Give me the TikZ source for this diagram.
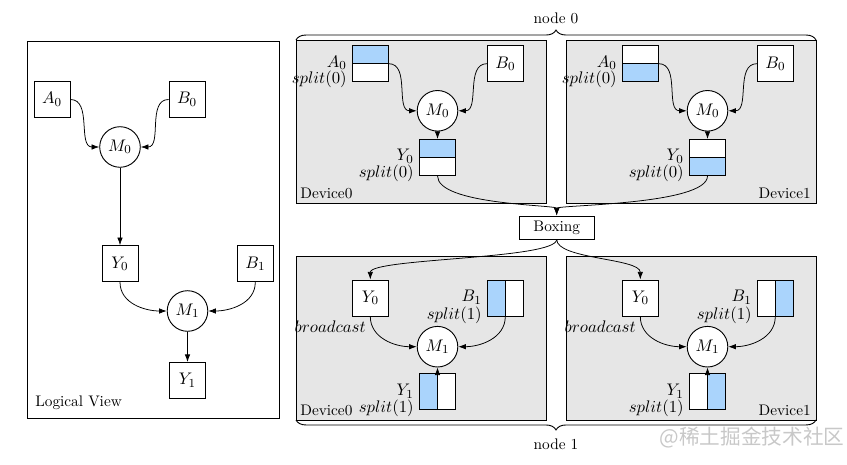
\documentclass[tikz,border=0pt]{standalone}
\usepackage{fontspec}
\newfontfamily\wmfont{Noto Sans CJK SC}
\usetikzlibrary{arrows.meta,decorations.pathreplacing}
\definecolor{blu}{RGB}{170,212,252}
\definecolor{panelgray}{RGB}{230,230,230}
\definecolor{wmgray}{RGB}{200,200,200}
\tikzset{
  mathfont/.style={font=\fontsize{10.8pt}{13pt}\selectfont},
  sq/.style={draw,fill=white,minimum size=23.5pt,inner sep=0pt,line width=0.6pt,mathfont},
  op/.style={draw,circle,fill=white,minimum size=26.5pt,inner sep=0pt,line width=0.6pt,mathfont},
  tophalf/.style={path picture={\fill[blu] (path picture bounding box.north west) rectangle (path picture bounding box.east);\draw[line width=0.6pt] (path picture bounding box.west) -- (path picture bounding box.east);}},
  bothalf/.style={path picture={\fill[blu] (path picture bounding box.south west) rectangle (path picture bounding box.east);\draw[line width=0.6pt] (path picture bounding box.west) -- (path picture bounding box.east);}},
  lefthalf/.style={path picture={\fill[blu] (path picture bounding box.north west) rectangle (path picture bounding box.south);\draw[line width=0.6pt] (path picture bounding box.north) -- (path picture bounding box.south);}},
  righthalf/.style={path picture={\fill[blu] (path picture bounding box.north) rectangle (path picture bounding box.south east);\draw[line width=0.6pt] (path picture bounding box.north) -- (path picture bounding box.south);}},
  conn/.style={-{Latex[length=5pt,width=3.6pt]},line width=0.5pt},
  panel/.style={draw,fill=panelgray,line width=0.6pt},
  lbl/.style={anchor=east,inner sep=0pt,mathfont},
  devw/.style={anchor=west,inner sep=0pt},
  deve/.style={anchor=east,inner sep=0pt},
  brc/.style={decorate,decoration={brace,amplitude=6.5pt},line width=0.6pt},
  boxing/.style={draw,fill=white,minimum width=49pt,minimum height=15pt,inner sep=0pt,line width=0.6pt},
  toboxing/.style={out=-90,in=90,out distance=19pt,in distance=7pt},
  fromboxing/.style={out=-90,in=90,out distance=13pt,in distance=14pt}
}
\begin{document}
\begin{tikzpicture}[x=0.653pt,y=0.653pt]
\useasboundingbox (0,0) rectangle (847,464);

% ---------------- Logical view ----------------
\draw[line width=0.6pt] (27,423) rectangle (279,46);
\node[sq] (LA0) at (52,364.5) {$A_0$};
\node[sq] (LB0) at (187,364.5) {$B_0$};
\node[op] (LM0) at (120,317) {$M_0$};
\node[sq] (LY0) at (120,200.3) {$Y_0$};
\node[sq] (LB1) at (255.3,200.3) {$B_1$};
\node[op] (LM1) at (187.5,153) {$M_1$};
\node[sq] (LY1) at (187.5,83.5) {$Y_1$};
\node[devw] (LV) at (35,61) {Logical View};
\draw[conn] (LA0.east) to[out=0,in=180] (LM0.west);
\draw[conn] (LB0.west) to[out=180,in=0] (LM0.east);
\draw[conn] (LM0) -- (LY0);
\draw[conn] (LY0.south) to[out=-90,in=180] (LM1.west);
\draw[conn] (LB1.south) to[out=-90,in=0] (LM1.east);
\draw[conn] (LM1) -- (LY1);

% ---------------- panels ----------------
\draw[panel] (296,424) rectangle (546,261);
\draw[panel] (566,424) rectangle (816,261);
\draw[panel] (296,208) rectangle (546,44);
\draw[panel] (566,208) rectangle (816,44);

% braces
\draw[brc] (296,424) -- (816,424);
\node (N0) at (556,446) {node 0};
\draw[brc] (816,44) -- (296,44);
\node (N1) at (556,20) {node 1};

% ---------------- node 0, device 0 ----------------
\node[sq,tophalf] (aA0) at (370.3,400.3) {};
\node[lbl] (aA0n) at (347,401.3) {$A_0$};
\node[lbl] (aA0s) at (347,384.3) {$split(0)$};
\node[sq] (aB0) at (505.3,400.3) {$B_0$};
\node[op] (aM0) at (437.5,353.2) {$M_0$};
\node[sq,tophalf] (aY0) at (437.5,306.5) {};
\node[lbl] (aY0n) at (414,307.5) {$Y_0$};
\node[lbl] (aY0s) at (414,290.5) {$split(0)$};
\node[devw] (aDev) at (300,271) {Device0};
\draw[conn] (aA0.east) to[out=0,in=180] (aM0.west);
\draw[conn] (aB0.west) to[out=180,in=0] (aM0.east);
\draw[conn] (aM0) -- (aY0);

% ---------------- node 0, device 1 ----------------
\node[sq,bothalf] (bA0) at (640.3,400.3) {};
\node[lbl] (bA0n) at (617,401.3) {$A_0$};
\node[lbl] (bA0s) at (617,384.3) {$split(0)$};
\node[sq] (bB0) at (775.3,400.3) {$B_0$};
\node[op] (bM0) at (707.5,353.2) {$M_0$};
\node[sq,bothalf] (bY0) at (707.5,306.5) {};
\node[lbl] (bY0n) at (684,307.5) {$Y_0$};
\node[lbl] (bY0s) at (684,290.5) {$split(0)$};
\node[deve] (bDev) at (811,271) {Device1};
\draw[conn] (bA0.east) to[out=0,in=180] (bM0.west);
\draw[conn] (bB0.west) to[out=180,in=0] (bM0.east);
\draw[conn] (bM0) -- (bY0);

% ---------------- Boxing ----------------
\node[boxing] (BX) at (556.7,236.5) {Boxing};
\draw[conn] (aY0.south) to[toboxing] (BX.north);
\draw[conn] (bY0.south) to[toboxing] (BX.north);

% ---------------- node 1, device 0 ----------------
\node[sq] (cY0) at (370.3,166) {$Y_0$};
\node[lbl] (cBr) at (366,137) {$broadcast$};
\node[sq,lefthalf] (cB1) at (505.3,166) {};
\node[lbl] (cB1n) at (482,166.5) {$B_1$};
\node[lbl] (cB1s) at (482,149) {$split(1)$};
\node[op] (cM1) at (437.5,117.3) {$M_1$};
\node[sq,lefthalf] (cY1) at (437.5,72.3) {};
\node[lbl] (cY1n) at (414,72.8) {$Y_1$};
\node[lbl] (cY1s) at (414,56) {$split(1)$};
\node[devw] (cDev) at (300,54) {Device0};
\draw[conn] (cY0.south) to[out=-90,in=180] (cM1.west);
\draw[conn] (cB1.south) to[out=-90,in=0] (cM1.east);
\draw[conn] (cY1) -- (cM1);

% ---------------- node 1, device 1 ----------------
\node[sq] (dY0) at (640.3,166) {$Y_0$};
\node[lbl] (dBr) at (636,137) {$broadcast$};
\node[sq,righthalf] (dB1) at (775.3,166) {};
\node[lbl] (dB1n) at (752,166.5) {$B_1$};
\node[lbl] (dB1s) at (752,149) {$split(1)$};
\node[op] (dM1) at (707.5,117.3) {$M_1$};
\node[sq,righthalf] (dY1) at (707.5,72.3) {};
\node[lbl] (dY1n) at (684,72.8) {$Y_1$};
\node[lbl] (dY1s) at (684,56) {$split(1)$};
\node[deve] (dDev) at (811,54) {Device1};
\draw[conn] (dY0.south) to[out=-90,in=180] (dM1.west);
\draw[conn] (dB1.south) to[out=-90,in=0] (dM1.east);
\draw[conn] (dY1) -- (dM1);

\draw[conn] (BX.south) to[fromboxing] (cY0.north);
\draw[conn] (BX.south) to[fromboxing] (dY0.north);

% watermark
\node[text=wmgray,inner sep=0pt] (WM) at (752,26) {\wmfont\fontsize{13.5pt}{16pt}\selectfont @稀土掘金技术社区};
\end{tikzpicture}
\end{document}
